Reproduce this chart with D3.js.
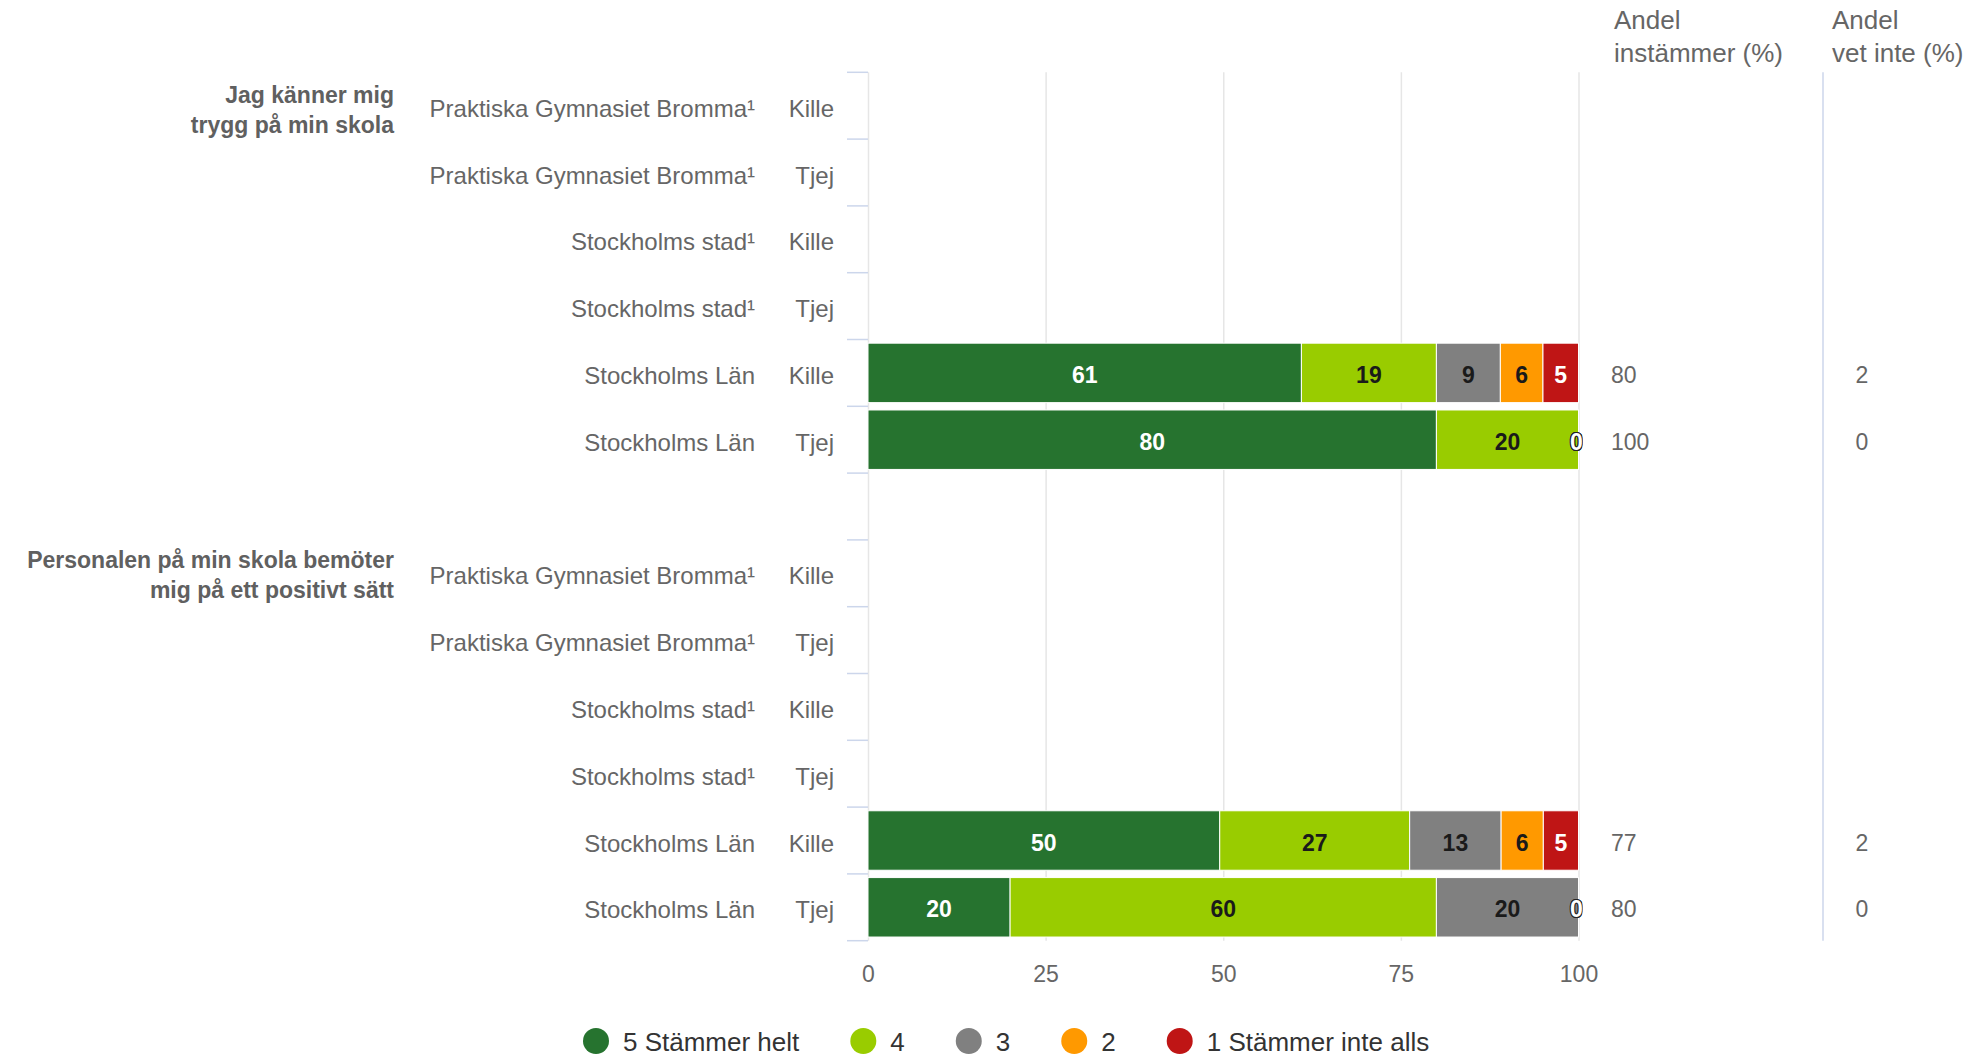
<!DOCTYPE html>
<html><head><meta charset="utf-8">
<script src="https://cdn.jsdelivr.net/npm/d3@7"></script>
<style>
html,body{margin:0;padding:0;background:#fff;}
svg{display:block;font-family:"Liberation Sans",Arial,Helvetica,sans-serif;}
</style></head><body>
<svg id="chart" width="1975" height="1058"></svg>
<script>
// ---------------- DATA ----------------
const questions = [["Jag känner mig", "trygg på min skola"], ["Personalen på min skola bemöter", "mig på ett positivt sätt"]];
const units = ["Praktiska Gymnasiet Bromma¹", "Praktiska Gymnasiet Bromma¹", "Stockholms stad¹", "Stockholms stad¹", "Stockholms Län", "Stockholms Län"];
const genders = ["Kille", "Tjej", "Kille", "Tjej", "Kille", "Tjej"];
const seriesNames = ["5 Stämmer helt", "4", "3", "2", "1 Stämmer inte alls"];
// values per question, per row (null = no data)
const s5 = [[null, null, null, null, 61, 80], [null, null, null, null, 50, 20]];
const s4 = [[null, null, null, null, 19, 20], [null, null, null, null, 27, 60]];
const s3 = [[null, null, null, null, 9, 0], [null, null, null, null, 13, 20]];
const s2 = [[null, null, null, null, 6, 0], [null, null, null, null, 6, 0]];
const s1 = [[null, null, null, null, 5, 0], [null, null, null, null, 5, 0]];
const andelInstammer = [[null, null, null, null, 80, 100], [null, null, null, null, 77, 80]];
const andelVetInte = [[null, null, null, null, 2, 0], [null, null, null, null, 2, 0]];
const xTicks = [0, 25, 50, 75, 100];
const colHeaders = [["Andel", "instämmer (%)"], ["Andel", "vet inte (%)"]];

// ---------------- STYLE ----------------
const colors = ["#26732f", "#99cc00", "#808080", "#ff9900", "#bf1515"];
const labelColors = ["#ffffff", "#1a1a1a", "#1a1a1a", "#1a1a1a", "#ffffff"];
const FONT = '"Liberation Sans",Arial,Helvetica,sans-serif';

const plot = {left: 868, right: 1578.5, top: 72.3, bottom: 940.7};
const svg = d3.select("#chart");

// row keys (with an empty spacer between questions)
const rowKeys = [];
questions.forEach((q, qi) => {
  units.forEach((u, ri) => rowKeys.push(`q${qi}r${ri}`));
  if (qi < questions.length - 1) rowKeys.push(`gap${qi}`);
});

const seriesArrays = [s5, s4, s3, s2, s1];
const table = [];
questions.forEach((q, qi) => units.forEach((u, ri) => {
  if (s5[qi][ri] == null) return;
  const o = {key: `q${qi}r${ri}`};
  seriesNames.forEach((n, si) => o[n] = seriesArrays[si][qi][ri]);
  table.push(o);
}));

const stacked = d3.stack().keys(seriesNames).offset(d3.stackOffsetExpand)(table);

const x = d3.scaleLinear().domain([0, 100]).range([plot.left, plot.right]);
const yRow = d3.scaleBand().domain(rowKeys).range([plot.top, plot.bottom]).padding(0);
const y = d3.scaleBand().domain(rowKeys).range([plot.top, plot.bottom]).paddingInner(0.11).paddingOuter(0.055);

// gridlines
const grid = svg.append("g").attr("transform", `translate(0,${plot.top})`)
  .call(d3.axisBottom(x).tickValues(xTicks).tickSize(plot.bottom - plot.top).tickFormat(""));
grid.select(".domain").remove();
grid.selectAll("line").attr("stroke", "#e6e6e6").attr("stroke-width", 1.5);

// category tick marks at band boundaries
const boundaries = d3.range(rowKeys.length + 1).map(i => yRow.range()[0] + i * yRow.step());
svg.append("g").selectAll("line").data(boundaries).join("line")
  .attr("x1", plot.left - 21).attr("x2", plot.left)
  .attr("y1", d => d).attr("y2", d => d)
  .attr("stroke", "#ccd6eb").attr("stroke-width", 1.5);

// separator line between extra columns
svg.append("line").attr("x1", 1823).attr("x2", 1823).attr("y1", plot.top).attr("y2", plot.bottom)
  .attr("stroke", "#ccd6eb").attr("stroke-width", 1.5);

// bars
const layers = svg.append("g").selectAll("g").data(stacked).join("g")
  .attr("fill", (d, i) => colors[i]);
layers.selectAll("rect").data(d => d).join("rect")
  .attr("x", d => x(d[0] * 100))
  .attr("width", d => Math.max(0, x(d[1] * 100) - x(d[0] * 100)))
  .attr("y", d => y(d.data.key))
  .attr("height", y.bandwidth())
  .attr("stroke", "#ffffff").attr("stroke-width", 1);

// data labels (clipped to plot)
svg.append("clipPath").attr("id", "plotclip").append("rect")
  .attr("x", plot.left).attr("y", plot.top).attr("width", plot.right - plot.left + 4).attr("height", plot.bottom - plot.top);
const lbl = svg.append("g").attr("clip-path", "url(#plotclip)");
stacked.forEach((layer, si) => {
  lbl.selectAll(null).data(layer.filter(d => d.data[layer.key] != null)).join("text")
    .attr("x", d => (x(d[0] * 100) + x(d[1] * 100)) / 2 - (d.data[layer.key] === 0 ? 2 : 0))
    .attr("y", d => yRow(d.data.key) + yRow.bandwidth() / 2 + 10)
    .attr("text-anchor", "middle")
    .attr("font-size", 23).attr("font-weight", "bold")
    .attr("fill", d => d.data[layer.key] === 0 ? "#ffffff" : labelColors[si])
    .attr("stroke", d => d.data[layer.key] === 0 ? "#222" : "none")
    .attr("stroke-width", 2)
    .attr("paint-order", "stroke")
    .text(d => d.data[layer.key]);
});

// category labels
questions.forEach((q, qi) => {
  units.forEach((u, ri) => {
    const cy = yRow(`q${qi}r${ri}`) + yRow.bandwidth() / 2;
    svg.append("text").attr("x", 755).attr("y", cy + 11).attr("text-anchor", "end")
      .attr("font-size", 24).attr("fill", "#666").text(u);
    svg.append("text").attr("x", 834).attr("y", cy + 11).attr("text-anchor", "end")
      .attr("font-size", 24).attr("fill", "#666").text(genders[ri]);
    if (andelInstammer[qi][ri] != null)
      svg.append("text").attr("x", 1611).attr("y", cy + 10)
        .attr("font-size", 23).attr("fill", "#666").text(andelInstammer[qi][ri]);
    if (andelVetInte[qi][ri] != null)
      svg.append("text").attr("x", 1862).attr("y", cy + 10).attr("text-anchor", "middle")
        .attr("font-size", 23).attr("fill", "#666").text(andelVetInte[qi][ri]);
  });
  const gy = yRow(`q${qi}r0`) + yRow.bandwidth() / 2;
  const t = svg.append("text").attr("text-anchor", "end").attr("font-size", 23)
    .attr("font-weight", "bold").attr("fill", "#606060");
  q.forEach((line, li) => t.append("tspan").attr("x", 394).attr("y", gy - 3 - qi * 2.5 + li * 30).text(line));
});

// column headers
[1614, 1832].forEach((hx, i) => {
  const t = svg.append("text").attr("font-size", 26).attr("fill", "#666");
  colHeaders[i].forEach((line, li) => t.append("tspan").attr("x", hx).attr("y", 29 + li * 32.5).text(line));
});

// x axis labels
const xa = svg.append("g").attr("transform", `translate(0,${plot.bottom})`)
  .call(d3.axisBottom(x).tickValues(xTicks).tickSize(0).tickPadding(0).tickFormat(d3.format("d")));
xa.select(".domain").remove();
xa.selectAll("text").attr("font-size", 23).attr("font-family", FONT).attr("fill", "#666")
  .attr("dy", null).attr("y", 41);

// legend
let lx = 596;
const ly = 1041;
seriesNames.forEach((n, i) => {
  svg.append("circle").attr("cx", lx).attr("cy", ly).attr("r", 13).attr("fill", colors[i]);
  const t = svg.append("text").attr("x", lx + 27).attr("y", ly + 9.5)
    .attr("font-size", 26).attr("fill", "#333").text(n);
  lx = lx + 27 + t.node().getComputedTextLength() + 64;
});
</script>
</body></html>
